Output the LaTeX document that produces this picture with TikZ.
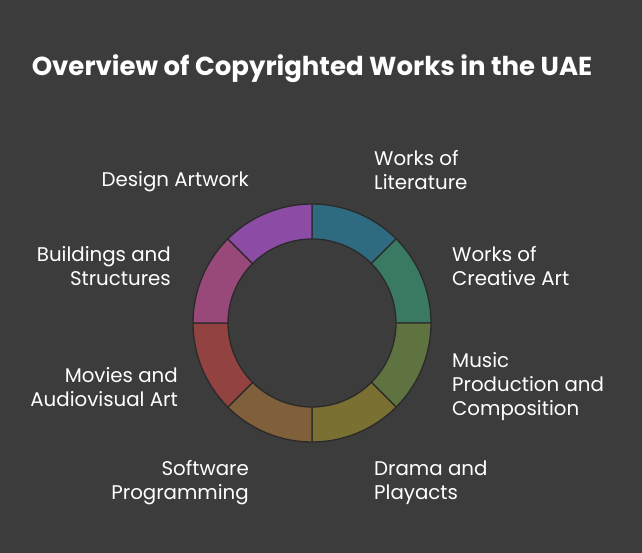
\documentclass[tikz,border=0pt]{standalone}
\usepackage{fontspec}
\setmainfont{Poppins}
\usepackage{tikz}

\definecolor{bg}{HTML}{3C3C3C}
\definecolor{edge}{HTML}{2A2A2A}
\definecolor{litcol}{HTML}{2F6B80}
\definecolor{artcol}{HTML}{3B7A62}
\definecolor{muscol}{HTML}{5E7340}
\definecolor{dracol}{HTML}{7A7031}
\definecolor{softcol}{HTML}{80603B}
\definecolor{movcol}{HTML}{934242}
\definecolor{buildcol}{HTML}{984979}
\definecolor{descol}{HTML}{8C4CA6}

\tikzset{
  seg/.style={draw=edge, line width=1.3pt, line join=round},
  lbl/.style={text=white, font=\fontsize{19.8}{24}\selectfont, inner sep=0pt},
}

\begin{document}
\begin{tikzpicture}[x=1pt,y=1pt]
		\fill[bg] (0,0) rectangle (642,553);
		\useasboundingbox (0,0) rectangle (642,553);
		\node[text=white, font=\fontsize{26}{30}\selectfont\bfseries] (title) at (312,484) {Overview of Copyrighted Works in the UAE};
		\begin{scope}[shift={(312,230)}]
			\draw[seg, fill=litcol] (90:119) arc (90:45:119) -- (45:84) arc (45:90:84) -- cycle;
			\draw[seg, fill=artcol] (45:119) arc (45:0:119) -- (0:84) arc (0:45:84) -- cycle;
			\draw[seg, fill=muscol] (0:119) arc (0:-45:119) -- (-45:84) arc (-45:0:84) -- cycle;
			\draw[seg, fill=dracol] (-45:119) arc (-45:-90:119) -- (-90:84) arc (-90:-45:84) -- cycle;
			\draw[seg, fill=softcol] (-90:119) arc (-90:-135:119) -- (-135:84) arc (-135:-90:84) -- cycle;
			\draw[seg, fill=movcol] (-135:119) arc (-135:-180:119) -- (-180:84) arc (-180:-135:84) -- cycle;
			\draw[seg, fill=buildcol] (180:119) arc (180:135:119) -- (135:84) arc (135:180:84) -- cycle;
			\draw[seg, fill=descol] (135:119) arc (135:90:119) -- (90:84) arc (90:135:84) -- cycle;
		\end{scope}
		\node[lbl, anchor=west, align=left] (lit) at (374,383) {Works of\\Literature};
		\node[lbl, anchor=west, align=left] (art) at (452,287) {Works of\\Creative Art};
		\node[lbl, anchor=west, align=left] (mus) at (452,166) {Music\\Production and\\Composition};
		\node[lbl, anchor=west, align=left] (dra) at (374,70) {Drama and\\Playacts};
		\node[lbl, anchor=east, align=right] (soft) at (249,70) {Software\\Programming};
		\node[lbl, anchor=east, align=right] (mov) at (178,166) {Movies and\\Audiovisual Art};
		\node[lbl, anchor=east, align=right] (build) at (171,287) {Buildings and\\Structures};
		\node[lbl, anchor=east, align=right] (des) at (249,371) {Design Artwork};
	\end{tikzpicture}
\end{document}
